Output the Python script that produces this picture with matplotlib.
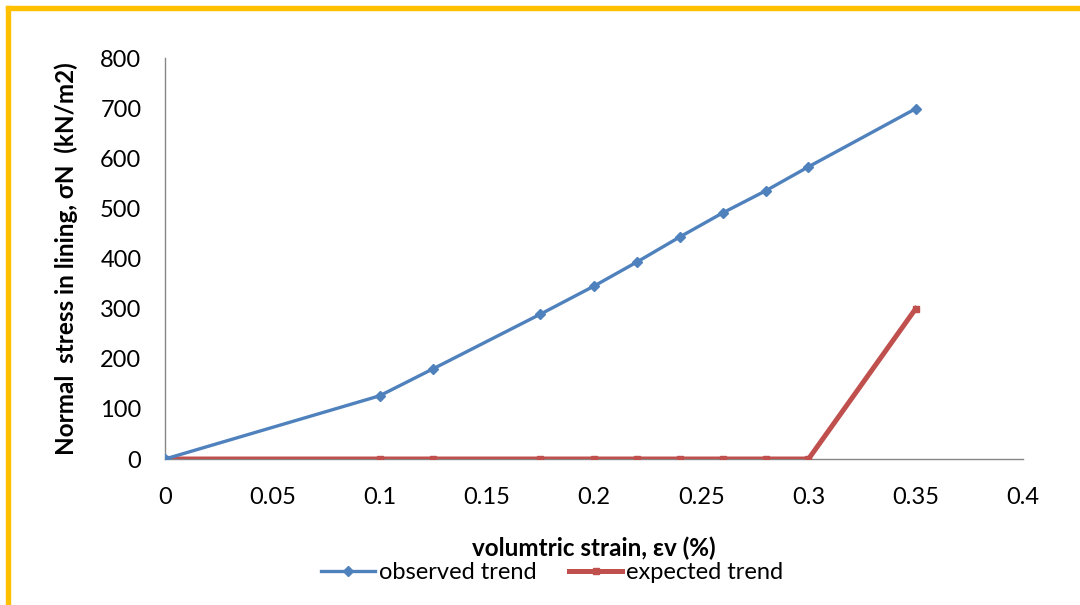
import matplotlib
matplotlib.use('Agg')
from matplotlib import pyplot as plt
from matplotlib.patches import Rectangle

# DATA
strain = [0, 0.1, 0.125, 0.175, 0.2, 0.22, 0.24, 0.26, 0.28, 0.3, 0.35]
observed = [0, 126, 180, 289, 345, 393, 443, 491, 535, 583, 699]
expected = [0, 0, 0, 0, 0, 0, 0, 0, 0, 0, 300]
x_ticks = [0, 0.05, 0.1, 0.15, 0.2, 0.25, 0.3, 0.35, 0.4]
x_tick_labels = ['0', '0.05', '0.1', '0.15', '0.2', '0.25', '0.3', '0.35', '0.4']
y_ticks = [0, 100, 200, 300, 400, 500, 600, 700, 800]


def main():
    plt.rcParams['font.family'] = ['Lato', 'DejaVu Sans']

    fig = plt.figure(figsize=(10.8, 6.05), dpi=100)
    ax = fig.add_axes([0.1528, 0.2413, 0.7944, 0.6628])

    ax.plot(strain, observed, color='#4F81BD', linewidth=2.4, marker='D', markersize=5,
            label='observed trend', zorder=3)
    ax.plot(strain, expected, color='#C0504D', linewidth=3.6, marker='s', markersize=5,
            label='expected trend', zorder=2)

    ax.set_xlim(0, 0.4)
    ax.set_ylim(0, 800)
    ax.set_xticks(x_ticks)
    ax.set_xticklabels(x_tick_labels)
    ax.set_yticks(y_ticks)

    for side in ('top', 'right'):
        ax.spines[side].set_visible(False)
    for side in ('left', 'bottom'):
        ax.spines[side].set_color('#868686')
        ax.spines[side].set_linewidth(1.0)
    ax.spines['bottom'].set_zorder(1)

    ax.tick_params(axis='both', length=0, labelsize=17, colors='black')
    ax.tick_params(axis='y', pad=17)
    ax.tick_params(axis='x', pad=20)

    ax.set_ylabel('Normal  stress in lining, σN  (kN/m2)', fontsize=17.5, fontweight='bold', labelpad=16)
    ax.set_xlabel('volumtric strain, εv (%)', fontsize=17.5, fontweight='bold', labelpad=21)

    fig.legend(loc='center', bbox_to_anchor=(0.5116, 0.054), ncol=2, frameon=False, fontsize=17,
               handlelength=2.25, handletextpad=0.17, columnspacing=1.4, borderpad=0)

    # YELLOW FRAME
    fig.patches.append(Rectangle((6 / 1080, 1 - 10 / 605), 1, 4 / 605, transform=fig.transFigure,
                                 color='#FFC000', zorder=0))
    fig.patches.append(Rectangle((6 / 1080, 0), 4 / 1080, 1 - 6 / 605, transform=fig.transFigure,
                                 color='#FFC000', zorder=0))

    fig.savefig('out.png', dpi=100)


if __name__ == '__main__':
    main()
